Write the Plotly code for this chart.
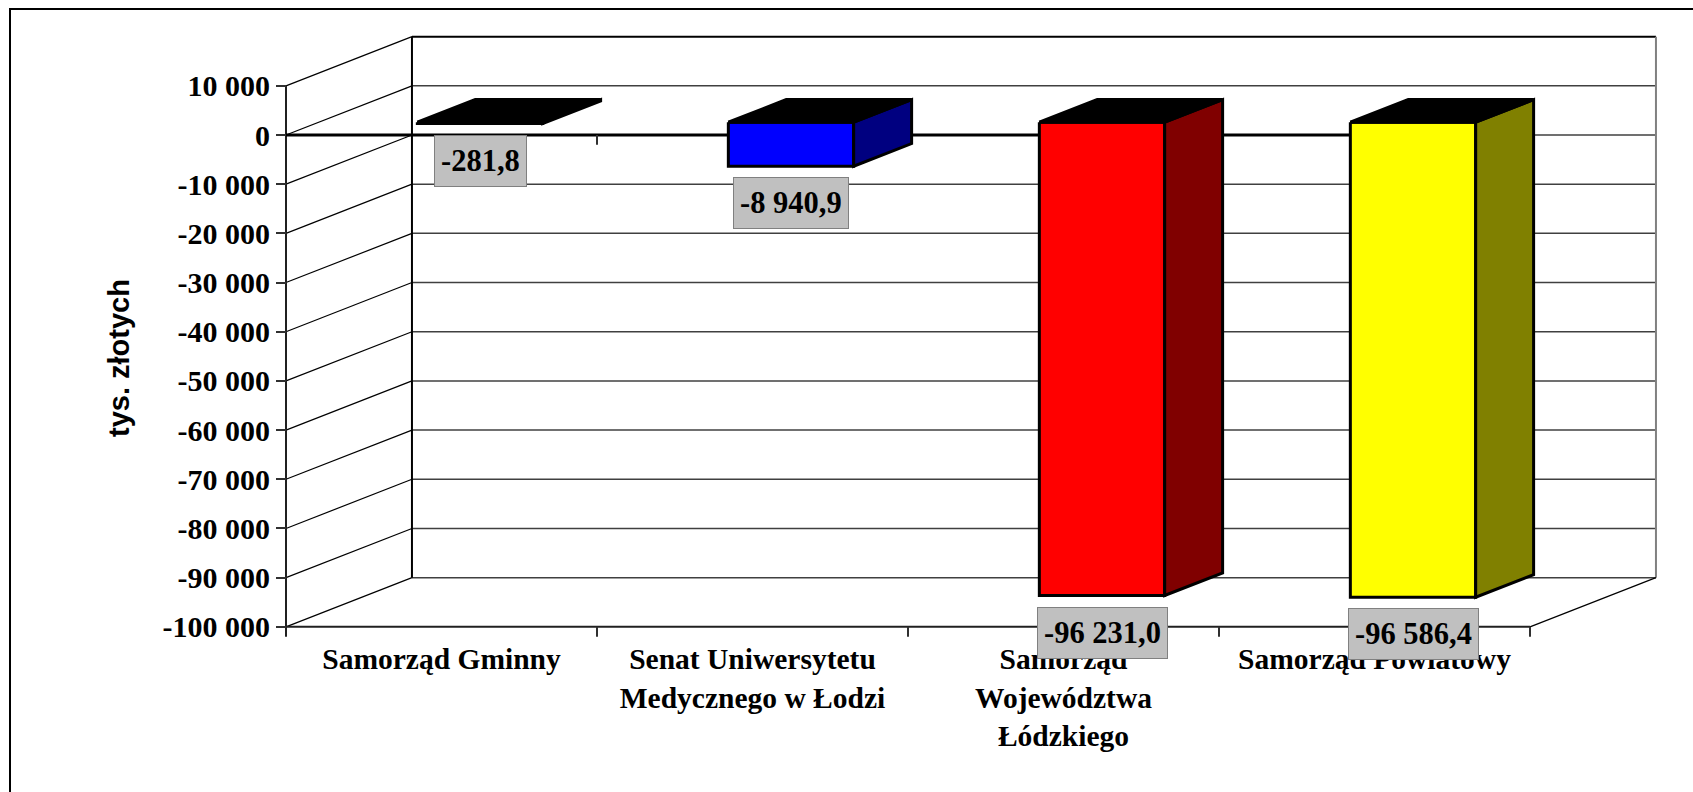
import plotly.graph_objects as go

# ---------------- data ----------------
categories = [
    "Samorząd Gminny",
    "Senat Uniwersytetu<br>Medycznego w Łodzi",
    "Samorząd<br>Województwa<br>Łódzkiego",
    "Samorząd Powiatowy",
]
values = [-281.8, -8940.9, -96231.0, -96586.4]
y_ticks = [10000, 0, -10000, -20000, -30000, -40000, -50000,
           -60000, -70000, -80000, -90000, -100000]
y_title = "tys. złotych"

# ---------------- styles ----------------
front_colors = ["#000000", "#0000FF", "#FF0000", "#FFFF00"]
side_colors = ["#000000", "#000080", "#800000", "#808000"]
top_color = "#000000"

W, H = 1693, 792
X0PX, SLOT = 286.0, 311.0            # pixel of category 0 and slot width
Y0PX, S = 135.0, 0.0049182           # pixel of value 0 and px per unit
DX, DY = 0.405, 10000.0              # depth vector (data units)
F1, F2 = 0.26, 0.72                  # bar front / back depth fraction
A, B = 0.317, 0.72                   # bar left / right inside slot

n = len(categories)
ymin, ymax = min(y_ticks), max(y_ticks)


def fmt(v, dec):
    s = f"{abs(v):,.{dec}f}".replace(",", " ").replace(".", ",")
    return ("-" if v < 0 else "") + s


fig = go.Figure()


def seg_trace(segs, color, width):
    xs, ys = [], []
    for (x0, y0, x1, y1) in segs:
        xs += [x0, x1, None]
        ys += [y0, y1, None]
    fig.add_trace(go.Scatter(x=xs, y=ys, mode="lines",
                             line=dict(color=color, width=width),
                             hoverinfo="skip", showlegend=False))


# back wall gridlines
seg_trace([(DX, v + DY, n + DX, v + DY) for v in y_ticks[1:]], "#404040", 1.5)
# side wall diagonals
seg_trace([(0, v, DX, v + DY) for v in y_ticks], "#000000", 1.2)
# back wall top + left edge
seg_trace([(DX, ymax + DY, n + DX, ymax + DY),
           (DX, ymin + DY, DX, ymax + DY)], "#000000", 2)
# back wall right edge
seg_trace([(n + DX, ymin + DY, n + DX, ymax + DY)], "#808080", 2)
# floor right diagonal
seg_trace([(n, ymin, n + DX, ymin + DY)], "#000000", 1.2)
# front axis lines
seg_trace([(0, ymin - 2000, 0, ymax), (0, ymin, n, ymin)], "#202020", 2)
# zero line
seg_trace([(0, 0, n, 0)], "#000000", 3)
# category ticks on zero line and bottom
seg_trace([(k, 0, k, -2000) for k in range(1, n + 1)] +
          [(k, ymin, k, ymin - 2000) for k in range(1, n + 1)], "#303030", 2)

# bars
for i, v in enumerate(values):
    xa, xb = i + A, i + B
    front = ([xa + F1 * DX, xb + F1 * DX, xb + F1 * DX, xa + F1 * DX, xa + F1 * DX],
             [F1 * DY, F1 * DY, v + F1 * DY, v + F1 * DY, F1 * DY])
    side = ([xb + F1 * DX, xb + F2 * DX, xb + F2 * DX, xb + F1 * DX, xb + F1 * DX],
            [F1 * DY, F2 * DY, v + F2 * DY, v + F1 * DY, F1 * DY])
    top = ([xa + F1 * DX, xb + F1 * DX, xb + F2 * DX, xa + F2 * DX, xa + F1 * DX],
           [F1 * DY, F1 * DY, F2 * DY, F2 * DY, F1 * DY])
    for (px, py), col in [(front, front_colors[i]), (side, side_colors[i]), (top, top_color)]:
        fig.add_trace(go.Scatter(x=px, y=py, mode="lines", fill="toself",
                                 fillcolor=col, line=dict(color="#000000", width=3),
                                 hoverinfo="skip", showlegend=False))
    # data label
    fig.add_annotation(x=i + (A + B) / 2 + F1 * DX, y=v + F1 * DY,
                       xref="x", yref="y", xanchor="center", yanchor="top", yshift=-11,
                       text=fmt(v, 1), showarrow=False, height=38,
                       font=dict(family="Liberation Serif", size=30.5, color="#000000", weight="bold"),
                       bgcolor="#C0C0C0", bordercolor="#808080", borderwidth=1, borderpad=6)

# y-axis title
fig.add_annotation(x=119 / W, y=1 - 358 / H, xref="paper", yref="paper",
                   xanchor="center", yanchor="middle",
                   text=y_title, textangle=-90, showarrow=False,
                   font=dict(family="Liberation Sans", size=29, color="#000000", weight="bold"))

# outer frame (extends beyond the view)
fig.add_shape(type="rect", xref="paper", yref="paper",
              x0=10 / W, y0=-0.2, x1=1.2, y1=1 - 9 / H,
              line=dict(color="#000000", width=2), fillcolor="rgba(0,0,0,0)")

fig.update_layout(
    width=W, height=H,
    margin=dict(l=0, r=0, t=0, b=0),
    paper_bgcolor="#FFFFFF", plot_bgcolor="#FFFFFF",
    showlegend=False,
    xaxis=dict(domain=[0, 1], range=[-X0PX / SLOT, (W - X0PX) / SLOT],
               anchor="free", position=1 - (Y0PX - S * ymin) / H,
               tickvals=[i + 0.5 for i in range(n)], ticktext=categories,
               ticks="", showgrid=False, zeroline=False, showline=False,
               automargin=False, ticklabelstandoff=12,
               tickfont=dict(family="Liberation Serif", size=29.5, color="#000000", weight="bold")),
    yaxis=dict(domain=[0, 1], range=[(Y0PX - H) / S, Y0PX / S],
               anchor="free", position=X0PX / W,
               tickvals=y_ticks, ticktext=[fmt(v, 0) for v in y_ticks],
               ticks="outside", ticklen=10, tickwidth=1.5, tickcolor="#303030",
               showgrid=False, zeroline=False, showline=False, automargin=False,
               tickfont=dict(family="Liberation Serif", size=30, color="#000000", weight="bold")),
)

fig.write_html("out.html", config={"displayModeBar": False},
               post_script="document.body.style.margin='0';document.body.style.overflow='hidden';")
